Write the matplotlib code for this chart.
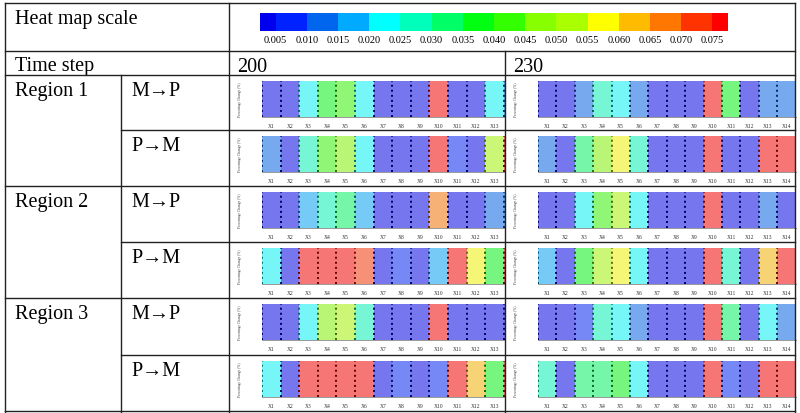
import numpy as np
import matplotlib
matplotlib.use("Agg")
import matplotlib.pyplot as plt
from matplotlib.colors import ListedColormap, BoundaryNorm
from matplotlib.lines import Line2D

plt.rcParams['font.family'] = ['Liberation Serif', 'DejaVu Serif']

# heat map scale
scale_colors = ['#0000ee', '#0022ff', '#0066ee', '#00aaff', '#00ffff', '#00ffbb',
                '#00ff66', '#00ff11', '#33ff00', '#88ff00', '#aaff00', '#ffff00',
                '#ffbb00', '#ff7700', '#ff3300', '#ff0000']
scale_edges = [0.0025, 0.005, 0.010, 0.015, 0.020, 0.025, 0.030, 0.035, 0.040,
               0.045, 0.050, 0.055, 0.060, 0.065, 0.070, 0.075, 0.0775]
scale_ticks = [0.005, 0.010, 0.015, 0.020, 0.025, 0.030, 0.035, 0.040,
               0.045, 0.050, 0.055, 0.060, 0.065, 0.070, 0.075]

time_steps = ['200', '230']
regions = ['Region 1', 'Region 2', 'Region 3']
directions = ['M\u2192P', 'P\u2192M']
strip_labels = ['X%d' % i for i in range(1, 15)]

# percentage change per strip X1..X14
r1_mp_200 = [0.003, 0.003, 0.0225, 0.0375, 0.0425, 0.0225, 0.003, 0.003, 0.003, 0.078, 0.003, 0.003, 0.0225, 0.0125]
r1_pm_200 = [0.0125, 0.003, 0.0275, 0.0425, 0.0475, 0.0225, 0.003, 0.003, 0.003, 0.078, 0.0075, 0.003, 0.0525, 0.078]
r1_mp_230 = [0.003, 0.003, 0.0125, 0.0275, 0.0225, 0.0125, 0.003, 0.003, 0.003, 0.078, 0.0375, 0.003, 0.0125, 0.0125]
r1_pm_230 = [0.0125, 0.003, 0.0325, 0.0475, 0.0575, 0.0275, 0.003, 0.003, 0.003, 0.078, 0.003, 0.003, 0.078, 0.078]
r2_mp_200 = [0.003, 0.003, 0.0175, 0.0275, 0.0325, 0.0175, 0.003, 0.003, 0.003, 0.0675, 0.003, 0.003, 0.0125, 0.0125]
r2_pm_200 = [0.0225, 0.003, 0.078, 0.078, 0.078, 0.0725, 0.003, 0.0075, 0.003, 0.0175, 0.078, 0.0575, 0.0375, 0.078]
r2_mp_230 = [0.003, 0.003, 0.0225, 0.0425, 0.0525, 0.0225, 0.003, 0.003, 0.003, 0.078, 0.003, 0.003, 0.0125, 0.003]
r2_pm_230 = [0.0175, 0.003, 0.0375, 0.0525, 0.0575, 0.0225, 0.003, 0.003, 0.003, 0.078, 0.0275, 0.003, 0.0625, 0.078]
r3_mp_200 = [0.003, 0.003, 0.0225, 0.0475, 0.0525, 0.0275, 0.003, 0.003, 0.003, 0.078, 0.003, 0.003, 0.003, 0.003]
r3_pm_200 = [0.0225, 0.003, 0.078, 0.078, 0.078, 0.078, 0.003, 0.0075, 0.003, 0.0075, 0.078, 0.0625, 0.0375, 0.078]
r3_mp_230 = [0.003, 0.003, 0.0075, 0.0275, 0.0225, 0.0125, 0.003, 0.003, 0.003, 0.078, 0.0325, 0.003, 0.0225, 0.0125]
r3_pm_230 = [0.0275, 0.003, 0.0325, 0.0325, 0.0375, 0.0225, 0.003, 0.003, 0.003, 0.078, 0.0075, 0.003, 0.078, 0.078]

panels = [[r1_mp_200, r1_mp_230], [r1_pm_200, r1_pm_230],
          [r2_mp_200, r2_mp_230], [r2_pm_200, r2_pm_230],
          [r3_mp_200, r3_mp_230], [r3_pm_200, r3_pm_230]]

W, H = 800, 414
fig = plt.figure(figsize=(W / 100, H / 100), dpi=100)
fig.patch.set_facecolor('white')


def fx(x):
    return x / W


def fy(y):
    return 1 - y / H


def line(x0, y0, x1, y1, c='#222222', lw=1.0):
    fig.add_artist(Line2D([fx(x0), fx(x1)], [fy(y0), fy(y1)],
                          transform=fig.transFigure, color=c, lw=lw, zorder=10))


cmap = ListedColormap(scale_colors)
norm = BoundaryNorm(scale_edges, cmap.N)

# table grid
row_tops = [76, 131, 187, 243, 299, 356]
col_left = [229, 505]
for y in [4, 52, 76, 187, 299]:
    line(5, y, 795, y)
for y in [131, 243, 356]:
    line(121, y, 795, y)
line(5, 412, 795, 412)
line(5, 4, 5, 414)
line(229, 4, 229, 414)
line(795, 4, 795, 414)
line(121, 76, 121, 414)
line(505, 52, 505, 414)

fs = 14.5
fig.text(fx(15), fy(24), 'Heat map scale', fontsize=fs, va='baseline')
fig.text(fx(15), fy(71), 'Time step', fontsize=fs, va='baseline')
for i, t in enumerate(time_steps):
    fig.text(fx(col_left[i] + 8), fy(72), t, fontsize=fs, va='baseline')
for i, r in enumerate(regions):
    fig.text(fx(15), fy(row_tops[2 * i] + 20), r, fontsize=fs, va='baseline')
    for j, d in enumerate(directions):
        fig.text(fx(131), fy(row_tops[2 * i + j] + 20), d, fontsize=fs, va='baseline')

# colour scale
cax = fig.add_axes([fx(260), fy(31.5), fx(728 - 260), 17.5 / H])
mids = (np.array(scale_edges[:-1]) + np.array(scale_edges[1:])) / 2
cax.pcolormesh(scale_edges, [0, 1], mids[np.newaxis, :], cmap=cmap, norm=norm)
cax.set_yticks([])
cax.set_xticks(scale_ticks, ['%.3f' % t for t in scale_ticks])
cax.set_xlim(scale_edges[0], scale_edges[-1])
cax.tick_params(axis='x', length=0, pad=3, labelsize=7.5)
for s in cax.spines.values():
    s.set_visible(False)

# strip panels
strip_w = [18.6, 18.4]
xmax = [13.05, 14.0]
for r in range(6):
    top = row_tops[r] + 6
    for c in range(2):
        vals = np.array(panels[r][c])
        left = col_left[c] + 33
        ax = fig.add_axes([fx(left), fy(top + 36), fx(strip_w[c] * xmax[c]), 36 / H])
        ax.set_facecolor('#eeeeee')
        ax.pcolormesh(np.arange(len(vals) + 1), [0, 1], vals[np.newaxis, :],
                      cmap=cmap, norm=norm, alpha=0.5)
        for k, v in enumerate(vals):
            dark = np.array(cmap(norm(v))[:3]) * 0.4
            ax.vlines(k, 0, 1, colors=[dark], linestyles=(0, (1, 1.6)), lw=1.4)
        n_show = int(np.floor(xmax[c] - 0.5)) + 1
        ax.set_yticks([])
        ax.set_xticks(np.arange(n_show) + 0.5, strip_labels[:n_show])
        ax.set_xlim(0, xmax[c])
        ax.set_ylim(0, 1)
        ax.tick_params(axis='x', length=0, pad=4, labelsize=4, labelcolor='#333333')
        for s in ax.spines.values():
            s.set_visible(False)
        ax.spines['bottom'].set_visible(True)
        ax.spines['bottom'].set_color('#888888')
        ax.spines['bottom'].set_linewidth(0.6)
        fig.text(fx(col_left[c] + 11), fy(top + 18), 'Percentage Change (%)',
                 rotation=90, fontsize=2.6, ha='center', va='center', color='#333333')

fig.savefig('out.png', dpi=100)
